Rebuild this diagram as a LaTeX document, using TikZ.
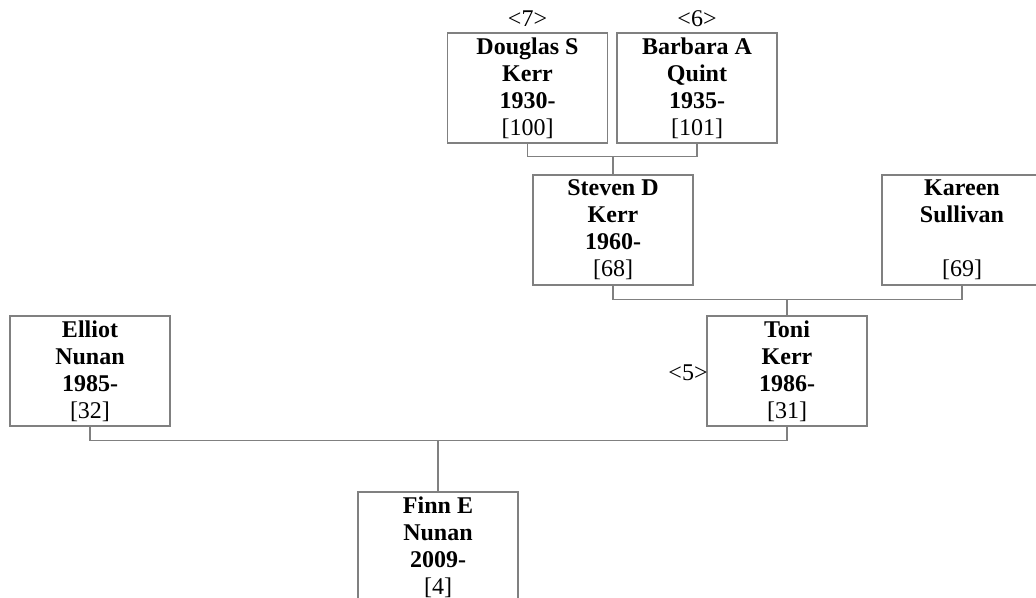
\documentclass[tikz,border=0pt]{standalone}
\usepackage{fontspec}
\setmainfont{Liberation Serif}
\usetikzlibrary{calc}
\definecolor{linegray}{RGB}{128,128,128}
\begin{document}
\begin{tikzpicture}[x=0.75pt,y=-0.75pt,
  person/.style={draw=linegray,line width=0.9pt,fill=white,rectangle,
    minimum width=120pt,minimum height=82.5pt,inner sep=0pt,
    align=center,font=\fontsize{18}{20.25}\selectfont},
  conn/.style={draw=linegray,line width=0.9pt},
  gen/.style={font=\fontsize{18}{20.25}\selectfont,inner sep=0pt}]
\clip (0,0) rectangle (1036,598);
\fill[white] (0,0) rectangle (1036,598);
\node[person] (dk) at (527.5,88) {\textbf{Douglas S}\\\textbf{Kerr}\\\textbf{1930-}\\{[100]}};
\node[person] (bq) at (697,88) {\textbf{Barbara A}\\\textbf{Quint}\\\textbf{1935-}\\{[101]}};
\node[person] (sk) at (613,230) {\textbf{Steven D}\\\textbf{Kerr}\\\textbf{1960-}\\{[68]}};
\node[person] (ks) at (962,230) {\textbf{Kareen}\\\textbf{Sullivan}\\\mbox{}\\{[69]}};
\node[person] (en) at (90,371) {\textbf{Elliot}\\\textbf{Nunan}\\\textbf{1985-}\\{[32]}};
\node[person] (tk) at (787,371) {\textbf{Toni}\\\textbf{Kerr}\\\textbf{1986-}\\{[31]}};
\node[person] (fn) at (438,547) {\textbf{Finn E}\\\textbf{Nunan}\\\textbf{2009-}\\{[4]}};
\node[gen] (g7) at (527.5,19) {\textless7\textgreater};
\node[gen] (g6) at (697,19) {\textless6\textgreater};
\node[gen] (g5) at (688,373) {\textless5\textgreater};
\coordinate (j1) at ($(sk.north)+(0,-18)$);
\coordinate (j2) at ($(tk.north)+(0,-16)$);
\coordinate (j3) at ($(fn.north)+(0,-51)$);
\draw[conn] (dk.south) |- (j1) -| (bq.south);
\draw[conn] (j1) -- (sk.north);
\draw[conn] (sk.south) |- (j2) -| (ks.south);
\draw[conn] (j2) -- (tk.north);
\draw[conn] (en.south) |- (j3) -| (tk.south);
\draw[conn] (j3) -- (fn.north);
\end{tikzpicture}
\end{document}
